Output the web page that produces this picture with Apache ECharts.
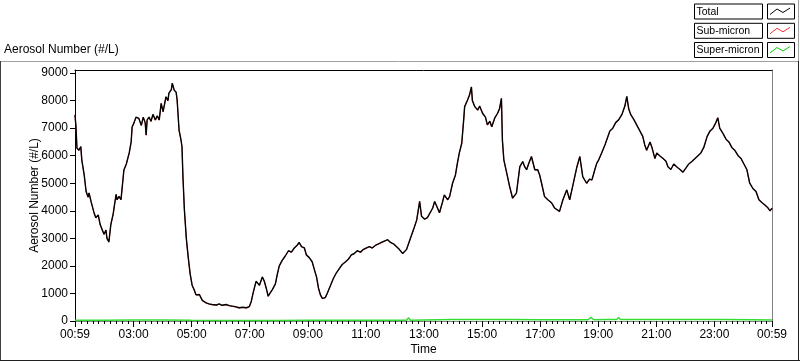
<!DOCTYPE html>
<html><head><meta charset="utf-8">
<script src="https://cdn.jsdelivr.net/npm/echarts@6/dist/echarts.min.js"></script>
<style>html,body{margin:0;padding:0;background:#fff}#c{width:800px;height:361px}</style>
</head><body><div id="c"></div>
<script>
// time of each reading in minutes elapsed since 00:59
const startMinute = 59;
const elapsedMinutes = [
0,2,4,8,12,14,19,23,27,29,
33,35,39,43,48,52,56,60,64,66,
70,74,79,81,85,87,91,95,101,106,
112,116,118,122,126,132,137,141,145,147,
149,153,157,161,166,170,174,178,182,188,
192,194,199,201,205,209,211,215,219,221,
223,226,
230,234,238,242,246,250,257,263,271,277,
283,292,298,304,312,319,325,331,339,346,
354,360,364,368,374,
381,387,391,395,399,403,408,414,418,422,
428,434,441,447,453,459,463,468,474,478,
484,490,494,499,503,507,511,517,521,528,
534,540,546,552,559,565,571,577,583,590,
596,602,608,614,621,627,633,639,646,652,
658,664,670,677,681,685,691,697,701,
706,712,716,722,728,732,739,743,749,753,
759,763,770,774,780,786,790,794,799,803,
805,811,815,819,821,826,832,836,842,848,
852,857,861,867,873,877,881,883,886,892,
898,902,904,908,912,919,925,929,933,937,
943,950,956,960,964,970,977,985,991,995,
1001,1008,1016,1022,1028,1037,1043,1049,1057,1063,
1068,1074,1078,1082,
1088,1095,1101,1105,1111,1117,1123,1130,1136,1140,
1144,1148,1155,1161,1167,1173,1177,1181,1188,1192,
1198,1202,1208,1215,1221,1225,1231,1237,1243,1250,
1256,1262,1268,1275,1281,1287,1293,1299,1306,1312,
1318,1324,1328,1332,1339,1345,1351,1357,1363,1370,
1376,1382,1388,1394,1401,1407,1413,1419,1426,1432,
1436,1440];

const totalValues = [
7480,7050,6280,6200,6330,5850,5300,4700,4500,4650,
4350,4400,3950,3750,3850,3500,3450,3150,3300,3000,
2870,3500,3900,4150,4600,4400,4520,4400,5480,5700,
6100,6500,7040,7200,7400,7350,7100,7400,7200,6750,
7300,7400,7250,7500,7300,7450,7300,7900,7600,8140,
8000,8270,8400,8630,8380,8300,8020,6930,6570,6330,
5240,4040,
3000,2300,1700,1300,1140,950,960,750,660,620,
600,580,620,570,600,560,540,520,480,500,
480,520,700,1020,1440,
1300,1600,1450,1200,900,950,1150,1350,1700,2000,
2200,2350,2550,2500,2650,2750,2850,2700,2650,2400,
2300,2150,1900,1600,1200,950,820,850,1000,1300,
1550,1750,1900,2050,2150,2250,2400,2450,2550,2500,
2600,2650,2700,2650,2750,2800,2850,2900,2950,2850,
2800,2700,2600,2450,2400,2600,2900,3200,3400,
3670,4340,3800,3700,3750,3800,4100,4340,4100,3930,
4300,4580,4400,4520,5000,5300,5730,6100,6450,7300,
7780,8020,8200,8500,8000,7780,7660,7800,7540,7400,
7120,7250,7050,7360,7540,7700,8080,6570,5850,5370,
4880,4600,4460,4550,4640,5600,5790,5600,5490,5700,
5970,5490,5490,5300,5000,4520,4400,4280,4100,4160,
3980,4400,4760,4400,4880,5600,5970,5240,5000,5150,
5120,5500,5730,5850,
6100,6400,6700,6900,7000,7200,7300,7500,7800,8150,
7700,7500,7300,7100,6900,6700,6400,6200,6500,6300,
5900,6100,6000,5900,5800,5600,5500,5700,5600,5500,
5400,5550,5700,5800,5900,6000,6100,6300,6700,6900,
7000,7200,7380,7000,6800,6600,6500,6300,6200,6000,
5900,5700,5500,5000,4800,4700,4400,4300,4200,4100,
4000,4100];

const subMicronValues = [
7470,7040,6270,6190,6320,5840,5290,4690,4490,4640,
4340,4390,3940,3740,3840,3490,3440,3140,3290,2990,
2860,3490,3890,4140,4590,4390,4510,4390,5470,5690,
6090,6490,7030,7190,7390,7340,7090,7390,7190,6740,
7290,7390,7240,7490,7290,7440,7290,7890,7590,8130,
7990,8260,8390,8620,8370,8290,8010,6920,6560,6320,
5230,4030,
2990,2290,1690,1290,1130,940,950,740,650,610,
590,570,610,560,590,550,530,510,470,490,
470,510,690,1010,1430,
1290,1590,1440,1190,890,940,1140,1340,1690,1990,
2190,2340,2540,2490,2640,2740,2840,2690,2640,2390,
2290,2140,1890,1590,1190,940,810,840,990,1290,
1540,1740,1890,2040,2140,2240,2390,2440,2540,2490,
2590,2640,2690,2640,2740,2790,2840,2890,2940,2840,
2790,2690,2590,2440,2390,2590,2890,3190,3390,
3660,4330,3790,3690,3740,3790,4090,4330,4090,3920,
4290,4570,4390,4510,4990,5290,5720,6090,6440,7290,
7770,8010,8190,8490,7990,7770,7650,7790,7530,7390,
7110,7240,7040,7350,7530,7690,8070,6560,5840,5360,
4870,4590,4450,4540,4630,5590,5780,5590,5480,5690,
5960,5480,5480,5290,4990,4510,4390,4270,4090,4150,
3970,4390,4750,4390,4870,5590,5960,5230,4990,5140,
5110,5490,5720,5840,
6090,6390,6690,6890,6990,7190,7290,7490,7790,8140,
7690,7490,7290,7090,6890,6690,6390,6190,6490,6290,
5890,6090,5990,5890,5790,5590,5490,5690,5590,5490,
5390,5540,5690,5790,5890,5990,6090,6290,6690,6890,
6990,7190,7370,6990,6790,6590,6490,6290,6190,5990,
5890,5690,5490,4990,4790,4690,4390,4290,4190,4090,
3990,4090];

const superElapsedMinutes = [0,60,120,180,240,300,360,420,480,540,600,660,685,689,693,720,780,840,900,960,1020,1060,1066,1072,1100,1119,1123,1127,1160,1220,1280,1340,1400,1440];
const superMicronValues   = [30,30,35,40,25,15,15,20,30,25,30,30,30,120,30,40,50,50,50,45,45,45,130,45,50,50,130,50,50,50,50,50,45,40];

const xTickMinutes = [59,180,300,420,540,660,780,900,1020,1140,1260,1380,1499];
const xTickLabels = ['00:59','03:00','05:00','07:00','09:00','11:00','13:00','15:00','17:00','19:00','21:00','23:00','00:59'];
const yTickValues = [0,1000,2000,3000,4000,5000,6000,7000,8000,9000];
const yMin = 0, yMax = 9110;

const minorTicks = [];
for (let m = 72; m < 1499; m += 12) minorTicks.push(m);

function pairs(times, vals){ return vals.map((v,i)=>[startMinute + times[i], v]); }

const FONT = 'Liberation Sans';
const chart = echarts.init(document.getElementById('c'), null, {renderer:'canvas'});

function legendRow(y, label, color){
  return [
    {type:'rect', shape:{x:694.5,y:y+0.5,width:68,height:15}, style:{fill:'#fff',stroke:'#000',lineWidth:1}},
    {type:'text', style:{x:696.5,y:y+8.5,text:label,font:'10.5px '+FONT,fill:'#000',verticalAlign:'middle'}},
    {type:'rect', shape:{x:767.5,y:y+0.5,width:27,height:15}, style:{fill:'#fff',stroke:'#000',lineWidth:1}},
    {type:'polyline', shape:{points:[[770,y+11],[777,y+5.5],[783,y+9],[790,y+4.5]]}, style:{stroke:color,lineWidth:1,fill:null}}
  ];
}

chart.setOption({
  animation:false,
  backgroundColor:'#fff',
  grid:{left:75,right:28,top:70,bottom:39.5,containLabel:false},
  xAxis:[
    {type:'value',min:59,max:1499,position:'bottom',
     axisLine:{show:true,lineStyle:{color:'#808080',width:1}},
     axisTick:{show:true,customValues:xTickMinutes,length:6,lineStyle:{color:'#000',width:1}},
     axisLabel:{show:true,customValues:xTickMinutes,margin:8,color:'#000',fontFamily:FONT,fontSize:12,
       formatter:(v)=>{const i=xTickMinutes.indexOf(v);return i>=0?xTickLabels[i]:'';}},
     splitLine:{show:false},
     name:'Time',nameLocation:'middle',nameGap:23,nameMoveOverlap:false,
     nameTextStyle:{color:'#000',fontFamily:FONT,fontSize:12}},
    {type:'value',min:59,max:1499,position:'bottom',gridIndex:0,
     axisLine:{show:false},
     axisTick:{show:true,customValues:minorTicks,length:3,lineStyle:{color:'#000',width:1}},
     axisLabel:{show:false},splitLine:{show:false}},
    {type:'value',min:59,max:1499,position:'top',gridIndex:0,
     axisLine:{show:true,lineStyle:{color:'#000',width:1}},
     axisTick:{show:false},axisLabel:{show:false},splitLine:{show:false}}
  ],
  yAxis:[
    {type:'value',min:yMin,max:yMax,position:'left',
     axisLine:{show:true,lineStyle:{color:'#000',width:1}},
     axisTick:{show:true,customValues:yTickValues,length:5,lineStyle:{color:'#000'}},
     axisLabel:{customValues:yTickValues,margin:7,color:'#000',fontFamily:FONT,fontSize:12,formatter:(v)=>String(v)},
     splitLine:{show:false},
     name:'Aerosol Number (#/L)',nameLocation:'middle',nameGap:34,nameMoveOverlap:false,
     nameTextStyle:{color:'#000',fontFamily:FONT,fontSize:12}},
    {type:'value',min:yMin,max:yMax,position:'right',
     axisLine:{show:true,lineStyle:{color:'#808080',width:1}},
     axisTick:{show:false},axisLabel:{show:false},splitLine:{show:false}}
  ],
  series:[
    {name:'Sub-micron',type:'line',data:pairs(elapsedMinutes, subMicronValues),showSymbol:false,symbol:'none',
     lineStyle:{color:'#ff0000',width:0.8},z:2},
    {name:'Total',type:'line',data:pairs(elapsedMinutes, totalValues),showSymbol:false,symbol:'none',
     lineStyle:{color:'#000',width:1.4},z:3},
    {name:'Super-micron',type:'line',data:pairs(superElapsedMinutes, superMicronValues),showSymbol:false,symbol:'none',
     lineStyle:{color:'#33dd33',width:1.5},z:4}
  ],
  graphic:[
    {type:'text',style:{x:4,y:50,text:'Aerosol Number (#/L)',font:'12px '+FONT,fill:'#000',verticalAlign:'middle'}},
    {type:'line',shape:{x1:0,y1:61.5,x2:799,y2:61.5},style:{stroke:'#a0a0a0',lineWidth:1}},
    {type:'line',shape:{x1:0.5,y1:61,x2:0.5,y2:361},style:{stroke:'#404040',lineWidth:1}},
    {type:'line',shape:{x1:0,y1:360.5,x2:800,y2:360.5},style:{stroke:'#202020',lineWidth:1}},
    {type:'line',shape:{x1:798.5,y1:0,x2:798.5,y2:61},style:{stroke:'#a0a0a0',lineWidth:1}},
    {type:'line',shape:{x1:798.5,y1:61,x2:798.5,y2:361},style:{stroke:'#202020',lineWidth:1}},
    ...legendRow(3.5,'Total','#000'),
    ...legendRow(22.8,'Sub-micron','#ff3030'),
    ...legendRow(42,'Super-micron','#00d000')
  ]
});
</script></body></html>
